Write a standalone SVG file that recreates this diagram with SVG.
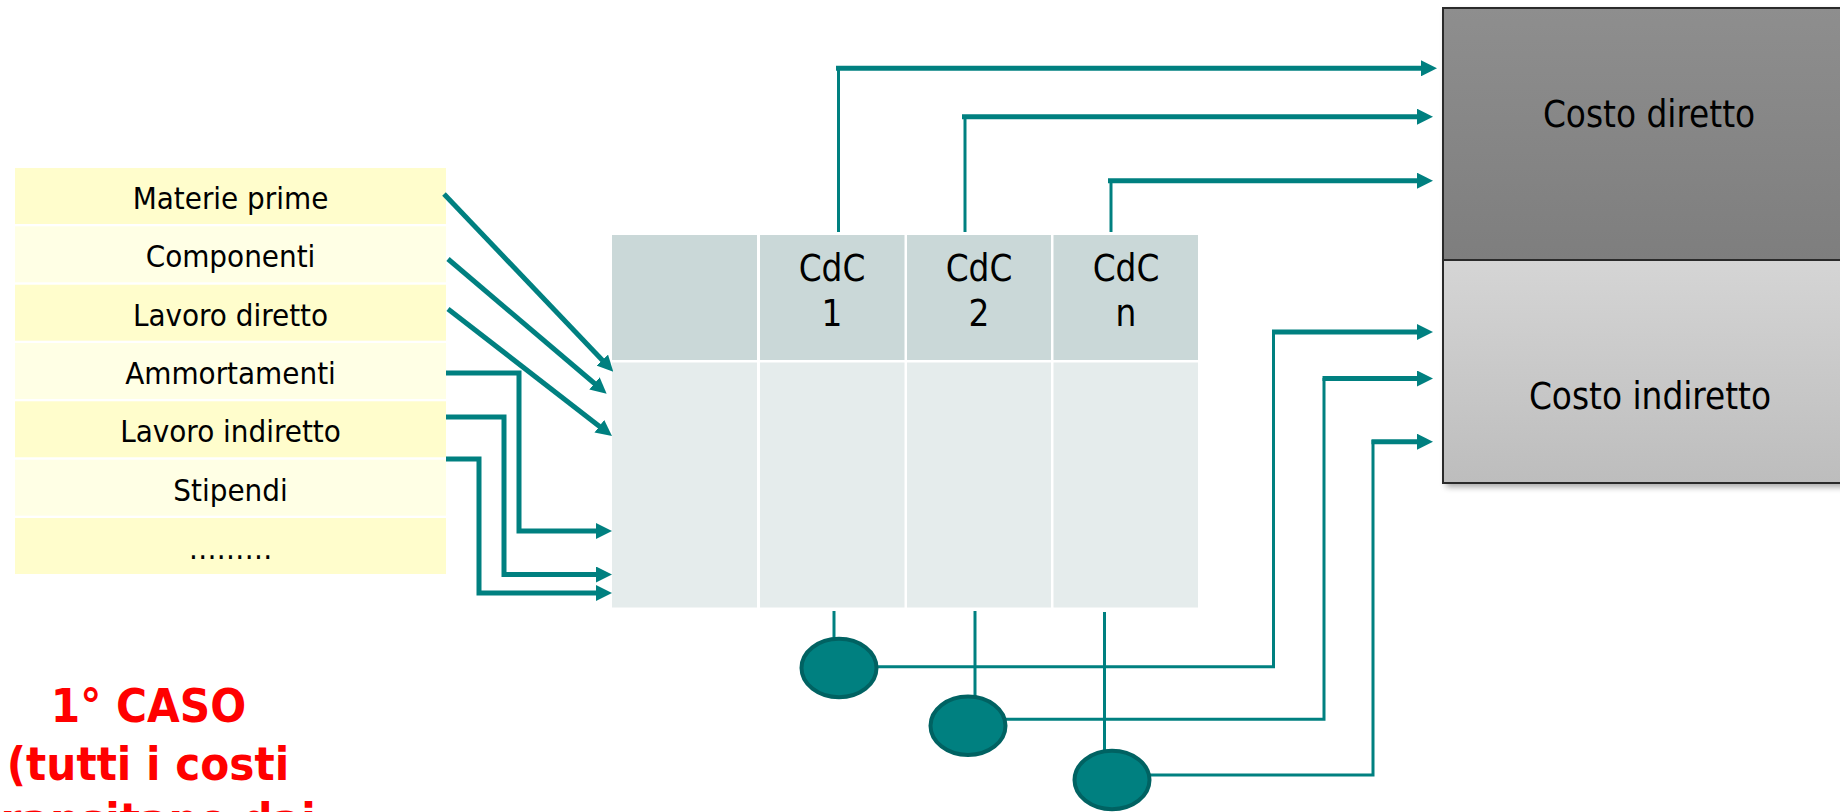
<svg xmlns="http://www.w3.org/2000/svg" width="1840" height="812" viewBox="0 0 1840 812">
<style>
.t{font-family:"DejaVu Sans","Liberation Sans",sans-serif;font-stretch:condensed;fill:#000;text-anchor:middle}
.li{font-size:31px}
.hd{font-size:36.5px}
.cs{font-size:36.5px}
.red{font-family:"DejaVu Sans","Liberation Sans",sans-serif;font-stretch:condensed;font-weight:bold;font-size:47px;fill:#FF0000;text-anchor:middle}
.ra{fill:#FFFDCC}
.rb{fill:#FFFFE5}
.h{fill:#CAD8D8}
.b{fill:#E5ECEC}
.thick{fill:none;stroke:#008080;stroke-width:5}
.thin{fill:none;stroke:#008080;stroke-width:3}
.arr{marker-end:url(#ah)}
.ell{fill:#008080;stroke:#006262;stroke-width:4}
</style>
<defs>
<marker id="ah" markerUnits="userSpaceOnUse" markerWidth="16" markerHeight="16" refX="4" refY="8" orient="auto">
<path d="M0,0 L16,8 L0,16 z" fill="#008080"/>
</marker>
<linearGradient id="gd" x1="0" y1="0" x2="0" y2="1"><stop offset="0" stop-color="#8E8E8E"/><stop offset="1" stop-color="#7E7E7E"/></linearGradient>
<linearGradient id="gi" x1="0" y1="0" x2="0" y2="1"><stop offset="0" stop-color="#D5D5D5"/><stop offset="1" stop-color="#BDBDBD"/></linearGradient>
<filter id="sh" x="-0.1" y="-0.1" width="1.2" height="1.2"><feGaussianBlur stdDeviation="3"/></filter>
</defs>

<g id="list">
<g id="n-materie"><rect class="ra" x="15" y="168" width="431" height="56"/><text class="t li" x="230.5" y="209">Materie prime</text></g>
<g id="n-componenti"><rect class="rb" x="15" y="226.3" width="431" height="56"/><text class="t li" x="230.5" y="267.3">Componenti</text></g>
<g id="n-lavdir"><rect class="ra" x="15" y="284.7" width="431" height="56"/><text class="t li" x="230.5" y="325.7">Lavoro diretto</text></g>
<g id="n-ammort"><rect class="rb" x="15" y="343" width="431" height="56"/><text class="t li" x="230.5" y="384">Ammortamenti</text></g>
<g id="n-lavind"><rect class="ra" x="15" y="401.3" width="431" height="56"/><text class="t li" x="230.5" y="442.3">Lavoro indiretto</text></g>
<g id="n-stipendi"><rect class="rb" x="15" y="459.7" width="431" height="56"/><text class="t li" x="230.5" y="500.7">Stipendi</text></g>
<g id="n-altro"><rect class="ra" x="15" y="518" width="431" height="56"/><text class="t li" x="230.5" y="559">………</text></g>
</g>

<g id="table">
<rect class="h" x="612" y="235" width="145" height="125"/>
<rect class="h" x="760" y="235" width="144.5" height="125"/>
<rect class="h" x="907" y="235" width="144" height="125"/>
<rect class="h" x="1053.5" y="235" width="144.5" height="125"/>
<rect class="b" x="612" y="362.5" width="145" height="245"/>
<rect class="b" x="760" y="362.5" width="144.5" height="245"/>
<rect class="b" x="907" y="362.5" width="144" height="245"/>
<rect class="b" x="1053.5" y="362.5" width="144.5" height="245"/>
<g id="n-cdc1"><text class="t hd" x="832" y="281">CdC</text><text class="t hd" x="832" y="325.5">1</text></g>
<g id="n-cdc2"><text class="t hd" x="979" y="281">CdC</text><text class="t hd" x="979" y="325.5">2</text></g>
<g id="n-cdcn"><text class="t hd" x="1126" y="281">CdC</text><text class="t hd" x="1126" y="325.5">n</text></g>
</g>

<g id="costs">
<rect x="1446" y="11" width="420" height="476" fill="#000" opacity="0.35" filter="url(#sh)"/>
<g id="n-diretto"><rect x="1443" y="8" width="420" height="252" fill="url(#gd)" stroke="#2A2A2A" stroke-width="2"/><text class="t cs" x="1649" y="126.7">Costo diretto</text></g>
<g id="n-indiretto"><rect x="1443" y="260" width="420" height="223" fill="url(#gi)" stroke="#2A2A2A" stroke-width="2"/><text class="t cs" x="1650" y="409">Costo indiretto</text></g>
</g>

<g id="connectors">
<line class="thick arr" x1="444" y1="194" x2="605" y2="363"/>
<line class="thick arr" x1="448" y1="259" x2="597.5" y2="386"/>
<line class="thick arr" x1="448" y1="309" x2="602.5" y2="428.7"/>
<path class="thick arr" d="M446,373 H519 V531 H600"/>
<path class="thick arr" d="M446,417 H504 V574.5 H600"/>
<path class="thick arr" d="M446,459 H479 V593 H600"/>

<line class="thin" x1="838.5" y1="232" x2="838.5" y2="68"/>
<path class="thick arr" d="M836,68.3 H1425"/>
<line class="thin" x1="965" y1="232" x2="965" y2="117"/>
<path class="thick arr" d="M962,116.7 H1421"/>
<line class="thin" x1="1111" y1="232" x2="1111" y2="181"/>
<path class="thick arr" d="M1108,180.7 H1421"/>

<line class="thin" x1="834" y1="611" x2="834" y2="640"/>
<line class="thin" x1="975" y1="611" x2="975" y2="700"/>
<line class="thin" x1="1104.5" y1="612" x2="1104.5" y2="752"/>
<path class="thin" d="M870,666.7 H1273.5 V331"/>
<path class="thin" d="M1000,719.3 H1324 V378"/>
<path class="thin" d="M1145,775 H1373 V440"/>
<path class="thick arr" d="M1272,332 H1421"/>
<path class="thick arr" d="M1322.5,378.5 H1421"/>
<path class="thick arr" d="M1371.5,441.7 H1421"/>
</g>

<g id="n-c1"><ellipse class="ell" cx="839" cy="668" rx="37.5" ry="29.2"/></g>
<g id="n-c2"><ellipse class="ell" cx="968" cy="725.7" rx="37.5" ry="29.2"/></g>
<g id="n-c3"><ellipse class="ell" cx="1112" cy="780" rx="37.5" ry="29.2"/></g>

<g id="caption">
<text class="red" x="148.5" y="721.7">1° CASO</text>
<text class="red" x="148" y="780">(tutti i costi</text>
<text class="red" x="148" y="836">transitano dai</text>
</g>
</svg>
